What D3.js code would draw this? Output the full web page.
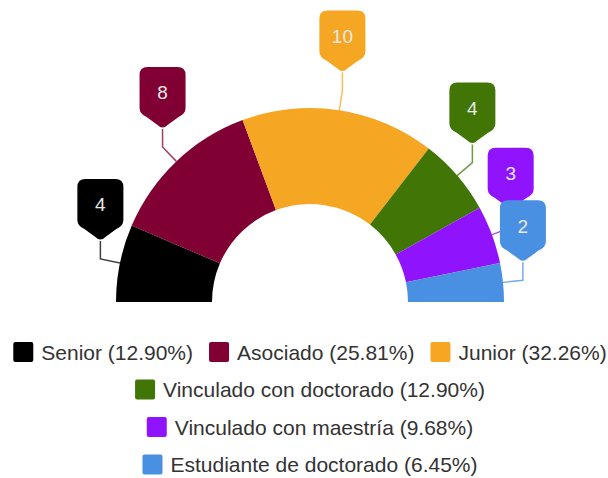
<!DOCTYPE html>
<html>
<head>
<meta charset="utf-8">
<script src="https://cdn.jsdelivr.net/npm/d3@7"></script>
<style>
  body { margin: 0; background: #fff; }
  svg { font-family: "Liberation Sans", Arial, sans-serif; }
</style>
</head>
<body>
<div id="chart"></div>
<script>
// data
const categories = ['Senior', 'Asociado', 'Junior', 'Vinculado con doctorado', 'Vinculado con maestría', 'Estudiante de doctorado']
const values = [4, 8, 10, 4, 3, 2]
const colors = ['#000000', '#800034', '#f5a623', '#417505', '#9013fe', '#4a90e2']

const W = 608
const H = 478
const cx = 310
const cy = 302
const outerR = 194
const innerR = 98

const total = d3.sum(values)
const rows = categories.map((c, i) => ({ name: c, value: values[i], color: colors[i] }))

const svg = d3.select('#chart')
  .append('svg')
  .attr('width', W)
  .attr('height', H)

const pie = d3.pie()
  .sort(null)
  .value(d => d.value)
  .startAngle(-Math.PI / 2)
  .endAngle(Math.PI / 2)

const arcs = pie(rows)

const arc = d3.arc().innerRadius(innerR).outerRadius(outerR)

const plot = svg.append('g')
  .attr('transform', `translate(${cx}, ${cy})`)

plot.selectAll('path.slice')
  .data(arcs)
  .enter()
  .append('path')
  .attr('class', 'slice')
  .attr('d', arc)
  .attr('fill', d => d.data.color)

// callout geometry
const ext = 20
const stem = 18
function pointAt(a, r) {
  return [Math.sin(a) * r, -Math.cos(a) * r]
}
const callouts = arcs.map(d => {
  const mid = (d.startAngle + d.endAngle) / 2
  const p0 = pointAt(mid, outerR)
  const p1 = pointAt(mid, outerR + ext)
  const tip = [p1[0], p1[1] - stem]
  return { d, p0, p1, tip }
})

// connector lines
plot.selectAll('path.link')
  .data(callouts)
  .enter()
  .append('path')
  .attr('class', 'link')
  .attr('d', c => d3.line()([c.p0, c.p1, c.tip]))
  .attr('fill', 'none')
  .attr('stroke', c => c.d.data.color)
  .attr('stroke-opacity', 0.75)
  .attr('stroke-width', 1.5)

// pin shaped label box, tip at (0,0)
const bw = 23
const r = 8
const pinPath = [
  `M ${-bw + r},-62`,
  `H ${bw - r}`,
  `Q ${bw},-62 ${bw},${-62 + r}`,
  `V -21`,
  `Q ${bw},-15 16,-12`,
  `L 5,-4`,
  `Q 0,1 -5,-4`,
  `L -16,-12`,
  `Q ${-bw},-15 ${-bw},-21`,
  `V ${-62 + r}`,
  `Q ${-bw},-62 ${-bw + r},-62`,
  'Z'
].join(' ')

const labels = plot.selectAll('g.callout')
  .data(callouts)
  .enter()
  .append('g')
  .attr('class', 'callout')
  .attr('transform', c => `translate(${c.tip[0]}, ${c.tip[1]})`)

labels.append('path')
  .attr('d', pinPath)
  .attr('fill', c => c.d.data.color)

labels.append('text')
  .attr('x', 0)
  .attr('y', -36)
  .attr('text-anchor', 'middle')
  .attr('dominant-baseline', 'central')
  .attr('fill', '#e8e8e8')
  .attr('font-size', 19)
  .text(c => c.d.data.value)

// legend, flowed into centered rows
const legendTop = 352
const rowStep = 37.5
const maxW = 600
const sq = 20
const gapText = 8
const gapItem = 16

const legend = svg.append('g').attr('class', 'legend')

const items = legend.selectAll('g.item')
  .data(rows)
  .enter()
  .append('g')
  .attr('class', 'item')

items.append('rect')
  .attr('width', sq)
  .attr('height', sq)
  .attr('y', -sq / 2)
  .attr('rx', 2)
  .attr('fill', d => d.color)

items.append('text')
  .attr('x', sq + gapText)
  .attr('dominant-baseline', 'central')
  .attr('font-size', 21)
  .attr('fill', '#333')
  .text(d => `${d.name} (${(d.value / total * 100).toFixed(2)}%)`)

const widths = []
items.each(function() {
  widths.push(sq + gapText + d3.select(this).select('text').node().getComputedTextLength())
})

let lines = [[]]
let lineW = 0
widths.forEach((w, i) => {
  const add = lines[lines.length - 1].length ? gapItem + w : w
  if (lineW + add > maxW && lines[lines.length - 1].length) {
    lines.push([i])
    lineW = w
  } else {
    lines[lines.length - 1].push(i)
    lineW += add
  }
})

lines.forEach((line, li) => {
  const lw = d3.sum(line, i => widths[i]) + gapItem * (line.length - 1)
  let x = cx - lw / 2
  line.forEach(i => {
    d3.select(items.nodes()[i])
      .attr('transform', `translate(${x}, ${legendTop + li * rowStep})`)
    x += widths[i] + gapItem
  })
})
</script>
</body>
</html>
